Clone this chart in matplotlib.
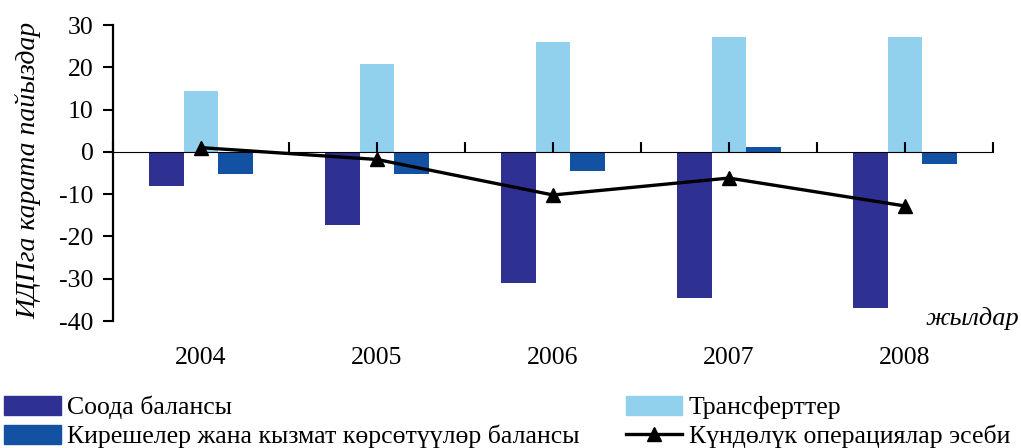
import numpy as np
import matplotlib.pyplot as plt
from matplotlib.lines import Line2D
from matplotlib.patches import Patch

# data (% of GDP)
years = ['2004', '2005', '2006', '2007', '2008']
trade_balance = [-8.0, -17.2, -31.0, -34.5, -37.0]
transfers = [14.5, 20.7, 26.0, 27.2, 27.2]
income_services = [-5.3, -5.2, -4.5, 1.1, -2.8]
current_account = [1.0, -1.8, -10.2, -6.2, -12.8]
y_ticks = [-40, -30, -20, -10, 0, 10, 20, 30]

plt.rcParams['font.family'] = ['Liberation Serif', 'DejaVu Serif']
plt.rcParams['axes.unicode_minus'] = False

c_trade = '#2E3192'
c_transf = '#92D1EE'
c_income = '#1352A3'
fs = 18.5

fig = plt.figure(figsize=(10.21, 4.48), dpi=100)
ax = fig.add_axes([113 / 1021, 1 - 321 / 448, 880 / 1021, 296 / 448])

x = np.arange(len(years))
w = 0.196

ax.bar(x - w, trade_balance, w, color=c_trade, zorder=2)
ax.bar(x, transfers, w, color=c_transf, zorder=2)
ax.bar(x + w, income_services, w, color=c_income, zorder=2)
ax.plot(x, current_account, color='black', lw=2.4, marker='^', ms=10, zorder=4)

ax.set_xlim(-0.5, 4.5)
ax.set_ylim(-40, 30)
ax.set_yticks(y_ticks)
ax.set_yticklabels([str(v) for v in y_ticks], fontfamily='Liberation Serif')
ax.tick_params(axis='y', direction='out', length=7, width=1.5, labelsize=fs, pad=7)

# category labels at the bottom, no tick marks there
ax.set_xticks(x)
ax.set_xticklabels(years, fontfamily='Liberation Serif')
ax.tick_params(axis='x', length=0, labelsize=fs, pad=19)

for s in ['top', 'right', 'bottom']:
    ax.spines[s].set_visible(False)
ax.spines['left'].set_linewidth(1.6)

# horizontal axis drawn at zero with ticks every half category
zero_ax = ax.secondary_xaxis(40 / 70)
zero_ax.set_xticks(np.arange(-0.5, 4.51, 0.5))
zero_ax.set_xticklabels([])
zero_ax.tick_params(direction='out', length=7, width=1.5)
zero_ax.spines['bottom'].set_linewidth(1.6)
zero_ax.set_zorder(3)

fig.text(28 / 1021, 1 - 170 / 448, 'ИДПга карата пайыздар', rotation=90,
         ha='center', va='center', fontsize=20, style='italic')
fig.text(1019 / 1021, 1 - 318 / 448, 'жылдар', ha='right', va='center',
         fontsize=19, style='italic')

h1 = Patch(color=c_trade)
h2 = Patch(color=c_income)
h3 = Patch(color=c_transf)
h4 = Line2D([], [], color='black', lw=2.4, marker='^', ms=10)
fig.legend([h1, h2, h3, h4],
           ['Соода балансы', 'Кирешелер жана кызмат көрсөтүүлөр балансы',
            'Трансферттер', 'Күндөлүк операциялар эсеби'],
           ncol=2, loc='lower left', bbox_to_anchor=(-0.011, -0.035),
           frameon=False, fontsize=fs, handlelength=2.2, handleheight=0.8,
           handletextpad=0.25, columnspacing=1.8, labelspacing=0.2,
           borderaxespad=0.2)

fig.savefig('out.png', dpi=100)
